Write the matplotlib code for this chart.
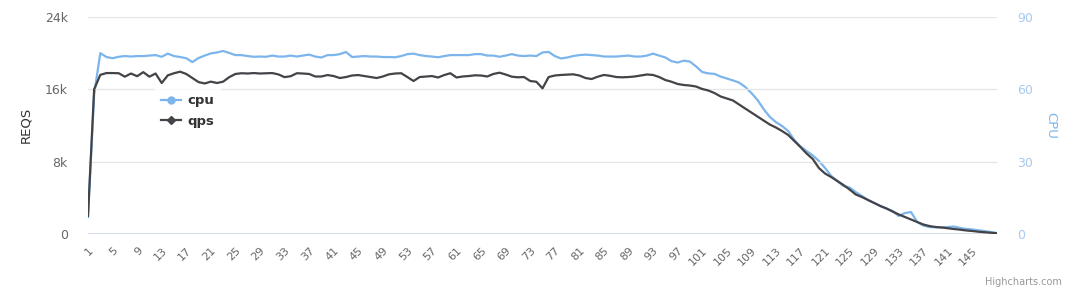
import numpy as np
import matplotlib.pyplot as plt
from matplotlib.lines import Line2D

# per-second samples
qps = [2000, 16000, 17600, 17800, 17800, 17780, 17400, 17750, 17450, 17900,
       17400, 17750, 16700, 17550, 17780, 17950, 17700, 17250, 16800, 16650,
       16850, 16700, 16850, 17350, 17700, 17780, 17750, 17800, 17750, 17780,
       17800, 17650, 17350, 17450, 17780, 17750, 17700, 17420, 17420, 17580,
       17470, 17250, 17360, 17530, 17580, 17470, 17360, 17250, 17420, 17660,
       17750, 17780, 17360, 16920, 17360, 17420, 17470, 17310, 17580, 17780,
       17310, 17420, 17470, 17550, 17530, 17420, 17700, 17840, 17640, 17400,
       17330, 17360, 16920, 16840, 16110, 17360, 17530, 17590, 17620, 17660,
       17530, 17250, 17140, 17400, 17590, 17500, 17360, 17330, 17360, 17420,
       17530, 17640, 17590, 17360, 17030, 16840, 16590, 16480, 16420, 16310,
       16040, 15870, 15590, 15210, 14990, 14770, 14320, 13880, 13440, 13000,
       12550, 12110, 11780, 11390, 10950, 10290, 9620, 8900, 8300, 7300,
       6690, 6300, 5860, 5420, 4920, 4370, 4090, 3760, 3430, 3100,
       2820, 2490, 2160, 1880, 1600, 1330, 1050, 880, 770, 720,
       630, 550, 480, 390, 330, 250, 190, 130, 80]

cpu = [7, 58, 75, 73.4, 72.9, 73.5, 73.8, 73.6, 73.8, 73.8,
       74, 74.2, 73.5, 74.8, 73.8, 73.4, 72.9, 71.3, 73, 74,
       74.9, 75.3, 75.9, 75.1, 74.2, 74.2, 73.8, 73.5, 73.6, 73.5,
       74, 73.6, 73.6, 74, 73.6, 74, 74.4, 73.6, 73.2, 74.2,
       74.2, 74.6, 75.5, 73.4, 73.6, 73.8, 73.6, 73.6, 73.4, 73.4,
       73.3, 73.8, 74.6, 74.8, 74.2, 73.8, 73.6, 73.3, 73.8, 74.2,
       74.2, 74.2, 74.2, 74.6, 74.6, 74, 74, 73.5, 74, 74.6,
       74, 73.8, 74, 73.8, 75.3, 75.5, 73.8, 72.8, 73.2, 73.8,
       74.2, 74.4, 74.2, 74, 73.6, 73.6, 73.6, 73.8, 74, 73.6,
       73.6, 74, 74.8, 74, 73.2, 71.7, 71.1, 71.9, 71.5, 69.5,
       67.2, 66.6, 66.4, 65.3, 64.5, 63.7, 62.8, 61, 58.5, 55.6,
       51.8, 48.6, 46.4, 44.8, 42.7, 39, 36.3, 34.4, 32.6, 30.3,
       27.4, 24.1, 22, 19.9, 19.3, 17.4, 15.8, 14.1, 12.9, 11.6,
       10.6, 9.5, 7.5, 8.7, 9.1, 5, 3.5, 2.9, 2.8, 2.7,
       2.9, 3.1, 2.5, 2.1, 1.9, 1.5, 1.2, 0.8, 0.4]

x = np.arange(1, len(qps) + 1)
qps_ticks = [0, 8000, 16000, 24000]
qps_labels = ["0", "8k", "16k", "24k"]
cpu_ticks = [0, 30, 60, 90]

cpu_color = "#7cb5ec"
qps_color = "#434348"
label_gray = "#666666"

fig = plt.figure(figsize=(10.8, 3.05), dpi=100)
ax = fig.add_axes([88 / 1080, 71 / 305, 909 / 1080, 217 / 305])
ax2 = ax.twinx()

ax2.plot(x, cpu, color=cpu_color, lw=1.6)
ax.plot(x, qps, color=qps_color, lw=1.6)

# qps on top, like highcharts series order
ax.set_zorder(2)
ax.patch.set_visible(False)

ax.set_xlim(1, len(qps))
ax.set_ylim(0, 24000)
ax2.set_ylim(0, 90)

ax.set_yticks(qps_ticks)
ax.set_yticklabels(qps_labels)
ax2.set_yticks(cpu_ticks)
ax.tick_params(axis="y", length=0, pad=14.5, labelsize=9, labelcolor=label_gray)
ax2.tick_params(axis="y", length=0, pad=14.5, labelsize=9, labelcolor="#a9c9ef")

ax.set_xticks(range(1, 146, 4))
ax.set_xticklabels([str(i) for i in range(1, 146, 4)], rotation=45,
                   ha="right", va="top", rotation_mode="anchor")
ax.tick_params(axis="x", length=0, pad=8, labelsize=8, labelcolor=label_gray)

for t in qps_ticks[1:]:
    ax.axhline(t, color="#e6e6e6", lw=1, zorder=0)

for a in (ax, ax2):
    for s in a.spines.values():
        s.set_visible(False)
ax.axhline(0, color="#ccd6eb", lw=1.2, zorder=1)

fig.text(26 / 1080, 1 - 125 / 305, "REQS", rotation=90, ha="center", va="center",
         fontsize=9.5, color="#333333")
fig.text(1051 / 1080, 1 - 125 / 305, "CPU", rotation=270, ha="center", va="center",
         fontsize=9.5, color="#7cb5ec")
fig.text(1062 / 1080, 1 - 282 / 305, "Highcharts.com", ha="right", va="center",
         fontsize=7, color="#999999")

handles = [Line2D([], [], color=cpu_color, lw=1.6, marker="o", ms=5),
           Line2D([], [], color=qps_color, lw=1.6, marker="D", ms=4)]
leg = ax.legend(handles, ["cpu", "qps"], loc="center left",
                bbox_to_anchor=(0.066, 0.567), frameon=True, fancybox=False,
                handlelength=1.5, handletextpad=0.45, labelspacing=0.55,
                borderpad=0.5, prop={"weight": "bold", "size": 9.5})
leg.get_frame().set_facecolor("white")
leg.get_frame().set_edgecolor("white")
for txt in leg.get_texts():
    txt.set_color("#333333")

fig.savefig("out.png", dpi=100, facecolor="white")
